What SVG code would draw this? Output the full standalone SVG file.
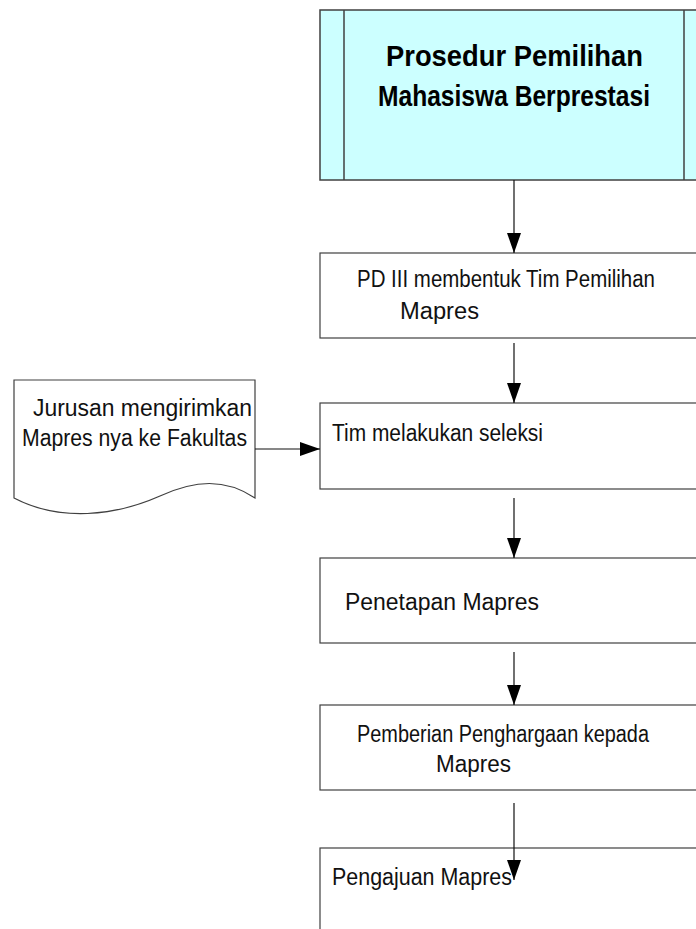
<svg xmlns="http://www.w3.org/2000/svg" width="696" height="929" viewBox="0 0 696 929">
<defs>
<marker id="ah" markerWidth="20" markerHeight="14" refX="20" refY="7" orient="auto" markerUnits="userSpaceOnUse">
<path d="M0,0 L20,7 L0,14 Z" fill="#000"/>
</marker>
<style>
.box{fill:#fff;stroke:#404040;stroke-width:1.2}
.t{font-family:"Liberation Sans",Arial,sans-serif;font-size:23px;fill:#111}
.title{font-family:"Liberation Sans",Arial,sans-serif;font-size:29px;font-weight:bold;fill:#000}
.c{stroke:#111;stroke-width:1.2;fill:none;marker-end:url(#ah)}
</style>
</defs>
<rect width="696" height="929" fill="#fff"/>
<g id="title">
<rect x="320" y="10" width="390" height="170" fill="#ccffff" stroke="#404040" stroke-width="1.5"/>
<line x1="344" y1="10" x2="344" y2="180" stroke="#404040" stroke-width="1.5"/>
<line x1="684" y1="10" x2="684" y2="180" stroke="#404040" stroke-width="1.5"/>
<text class="title" x="386" y="66" textLength="257" lengthAdjust="spacingAndGlyphs">Prosedur Pemilihan</text>
<text class="title" x="378" y="106" textLength="272" lengthAdjust="spacingAndGlyphs">Mahasiswa Berprestasi</text>
</g>
<g id="n1">
<rect class="box" x="320" y="253" width="390" height="85"/>
<text class="t" x="357" y="287" textLength="298" lengthAdjust="spacingAndGlyphs">PD III membentuk Tim Pemilihan</text>
<text class="t" x="400" y="319" textLength="79" lengthAdjust="spacingAndGlyphs">Mapres</text>
</g>
<g id="n2">
<rect class="box" x="320" y="403" width="390" height="86"/>
<text class="t" x="332" y="441" textLength="211" lengthAdjust="spacingAndGlyphs">Tim  melakukan  seleksi</text>
</g>
<g id="n3">
<rect class="box" x="320" y="558" width="390" height="85"/>
<text class="t" x="345" y="610" textLength="194" lengthAdjust="spacingAndGlyphs">Penetapan  Mapres</text>
</g>
<g id="n4">
<rect class="box" x="320" y="705" width="390" height="85"/>
<text class="t" x="357" y="742" textLength="292" lengthAdjust="spacingAndGlyphs">Pemberian Penghargaan kepada</text>
<text class="t" x="436" y="772" textLength="75" lengthAdjust="spacingAndGlyphs">Mapres</text>
</g>
<g id="n5">
<rect class="box" x="320" y="848" width="390" height="100"/>
<text class="t" x="332" y="885" textLength="180" lengthAdjust="spacingAndGlyphs">Pengajuan  Mapres</text>
</g>
<g id="doc">
<path d="M14,380 L255,380 L255,498 C225,478 195,480 160,496 C115,516 60,522 14,498 Z" fill="#fff" stroke="#404040" stroke-width="1.2"/>
<text class="t" x="33" y="416" textLength="219" lengthAdjust="spacingAndGlyphs">Jurusan mengirimkan</text>
<text class="t" x="22" y="446" textLength="225" lengthAdjust="spacingAndGlyphs">Mapres nya ke Fakultas</text>
</g>
<g id="connectors">
<line class="c" x1="514" y1="180" x2="514" y2="253"/>
<line class="c" x1="514" y1="343" x2="514" y2="403"/>
<line class="c" x1="514" y1="498" x2="514" y2="558"/>
<line class="c" x1="514" y1="652" x2="514" y2="705"/>
<line class="c" x1="514" y1="803" x2="514" y2="880"/>
<line class="c" x1="255" y1="449" x2="320" y2="449"/>
</g>
</svg>
